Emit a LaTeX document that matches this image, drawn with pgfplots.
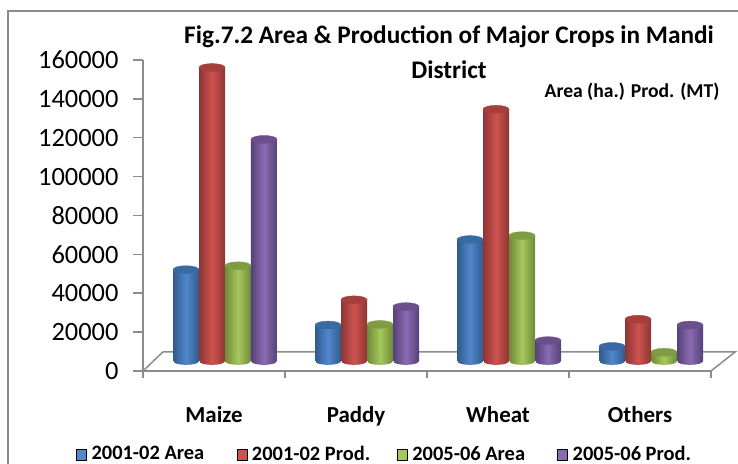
\documentclass[border=0pt]{standalone}
\usepackage{fontspec}
\setmainfont{Carlito}
\usepackage{pgfplots}
\pgfplotsset{compat=1.18}

\definecolor{axgray}{HTML}{8C8C8C}
\definecolor{bluem}{HTML}{5088CC}\definecolor{blued}{HTML}{2F5A8C}\definecolor{bluec}{HTML}{3A6AA3}
\definecolor{redm}{HTML}{CE5350}\definecolor{redd}{HTML}{8E3533}\definecolor{redc}{HTML}{A53F3C}
\definecolor{grnm}{HTML}{A6C75E}\definecolor{grnd}{HTML}{6F8A38}\definecolor{grnc}{HTML}{7F9C43}
\definecolor{purm}{HTML}{8A6CB0}\definecolor{purd}{HTML}{56407A}\definecolor{purc}{HTML}{6A4F8C}

% shaded ellipse for the foot of a cylinder
\newcommand{\footmark}[2]{%
  \pgfdeclarehorizontalshading{sh#1}{8bp}{color(0bp)=(#2); color(13bp)=(#1); color(26bp)=(#2)}%
  \pgfdeclareplotmark{foot#1}{%
    \begin{pgfscope}
    \pgfpathellipse{\pgfpointorigin}{\pgfqpoint{13bp}{0pt}}{\pgfqpoint{0pt}{3.9bp}}%
    \pgfusepath{clip}%
    \pgftext{\pgfuseshading{sh#1}}%
    \end{pgfscope}}}
\footmark{bluem}{blued}
\footmark{redm}{redd}
\footmark{grnm}{grnd}
\footmark{purm}{purd}

% one cylinder: foot ellipse, shaded body, darker top ellipse
% (each bar its own plot, a shading would otherwise span the whole series)
\newcommand{\cyl}[5]{%
  \addplot[only marks,mark=foot#3,forget plot] coordinates {(#1,0)};
  \addplot[ybar,bar width=26bp,bar shift=0pt,draw=none,forget plot,
    left color=#4,right color=#4,middle color=#3] coordinates {(#1,#2)};
  \addplot[only marks,mark=*,mark size=13bp,forget plot,
    mark options={yscale=.3,draw=#5,fill=#5}] coordinates {(#1,#2)};
}
\newcommand{\areaA}[2]{\cyl{#1}{#2}{bluem}{blued}{bluec}}
\newcommand{\prodA}[2]{\cyl{#1}{#2}{redm}{redd}{redc}}
\newcommand{\areaB}[2]{\cyl{#1}{#2}{grnm}{grnd}{grnc}}
\newcommand{\prodB}[2]{\cyl{#1}{#2}{purm}{purd}{purc}}

\begin{document}
\begin{tikzpicture}[x=1bp,y=1bp]
\path[use as bounding box] (0,0) rectangle (738,464);
\draw[axgray,line width=1.5bp] (8,0) -- (8,453) -- (738,453);

\begin{axis}[
  name=main,at={(143bp,93bp)},anchor=south west,
  scale only axis,width=568bp,height=311bp,
  xmin=0,xmax=4,ymin=0,ymax=160000,
  axis x line*=bottom,axis y line*=left,
  axis line style={axgray,line width=1.5bp,-},
  xtick={0.5,1.5,2.5,3.5},
  xticklabels={Maize,Paddy,Wheat,Others},
  minor xtick={0,1,2,3,4},
  ytick={0,20000,40000,60000,80000,100000,120000,140000,160000},
  scaled y ticks=false,
  /pgf/number format/assume math mode=true,
  yticklabel={\pgfmathprintnumber[fixed,1000 sep={}]{\tick}},
  major tick length=10bp,
  minor tick length=7bp,
  major x tick style={draw=none},
  minor x tick style={axgray,line width=1.5bp},
  major y tick style={axgray,line width=1.5bp},
  tick align=outside,
  xticklabel style={font=\bfseries\fontsize{23}{23}\selectfont,yshift=-22bp},
  yticklabel style={font=\fontsize{26.5}{26.5}\selectfont,xshift=-11bp},
  clip=false,
]
\draw[axgray,line width=1.5bp] (axis cs:0,0) -- (axis cs:0.14,9800) -- (axis cs:4.17,9800) -- (axis cs:4,0);
\end{axis}

\begin{axis}[
  at={(154bp,103bp)},anchor=south west,
  scale only axis,width=568bp,height=311bp,
  xmin=-0.5,xmax=3.5,ymin=0,ymax=160000,
  axis lines=none,clip=false,
  legend style={at={(-81bp,-105bp)},anchor=south west,draw=none,fill=none,
    font=\bfseries\fontsize{20.5}{20.5}\selectfont,legend columns=4,
    /tikz/every even column/.append style={column sep=0bp}},
  legend image code/.code={\fill[#1] (0,-6bp) rectangle (10bp,5bp);},
]
\addlegendimage{fill=bluem}
\addlegendimage{fill=redm}
\addlegendimage{fill=grnm}
\addlegendimage{fill=purm}
\areaA{-0.2746}{47000}\prodA{-0.0915}{151000}\areaB{0.0915}{49000}\prodB{0.2746}{114000}
\areaA{0.7254}{18500}\prodA{0.9085}{31500}\areaB{1.0915}{18800}\prodB{1.2746}{28000}
\areaA{1.7254}{62500}\prodA{1.9085}{129500}\areaB{2.0915}{64500}\prodB{2.2746}{10500}
\areaA{2.7254}{7500}\prodA{2.9085}{21500}\areaB{3.0915}{4500}\prodB{3.2746}{18500}
\legend{\makebox[146bp][l]{\hspace{3bp}2001-02 Area},\makebox[146bp][l]{\hspace{3bp}2001-02 Prod.},\makebox[146bp][l]{\hspace{3bp}2005-06 Area},\makebox[146bp][l]{\hspace{3bp}2005-06 Prod.}}
\end{axis}

\node[font=\bfseries\fontsize{25.4}{25.4}\selectfont] at (449,427) {Fig.7.2 Area \& Production of Major Crops in Mandi};
\node[font=\bfseries\fontsize{25.4}{25.4}\selectfont] at (449,394) {District};
\node[font=\bfseries\fontsize{19.7}{19.7}\selectfont] at (632,372) {Area (ha.) Prod. (MT)};
\end{tikzpicture}
\end{document}
